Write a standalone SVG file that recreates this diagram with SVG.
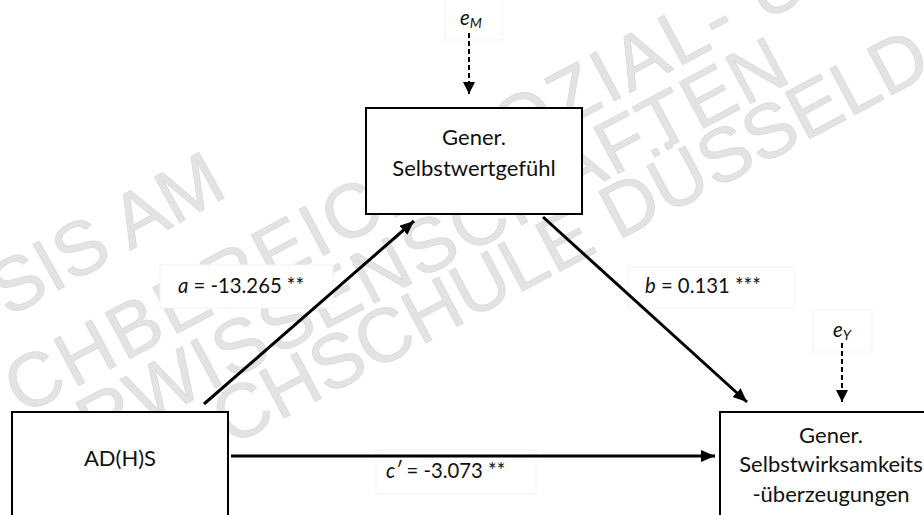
<svg xmlns="http://www.w3.org/2000/svg" width="924" height="515" viewBox="0 0 924 515">
<style>
.wm{font-family:"Liberation Sans",Arial,sans-serif;font-size:76px;fill:#e3e3e3;stroke:#dadada;stroke-width:0.8}
.box{fill:#ffffff;stroke:#000000;stroke-width:2}
.lbox{fill:#ffffff;stroke:#f3f3f3;stroke-width:1}
.nt{font-family:Lato,"Open Sans",sans-serif;font-size:22px;fill:#111111;text-anchor:middle}
.lt{font-family:Lato,"Open Sans",sans-serif;font-size:20.3px;fill:#111111}
.it{font-style:italic}
.sub{font-size:14px;font-style:italic}
.arr{stroke:#000000;stroke-width:3;fill:none;marker-end:url(#ah)}
.dash{stroke:#000000;stroke-width:2;stroke-dasharray:5 3;fill:none;marker-end:url(#ahs)}
</style>
<defs>
<marker id="ah" markerUnits="userSpaceOnUse" markerWidth="16" markerHeight="14" refX="14" refY="6" orient="auto">
<path d="M0,0 L14,6 L0,12 Z" fill="#000000"/>
</marker>
<marker id="ahs" markerUnits="userSpaceOnUse" markerWidth="16" markerHeight="14" refX="12" refY="6" orient="auto">
<path d="M0,0 L12,6 L0,12 Z" fill="#000000"/>
</marker>
</defs>
<rect width="924" height="515" fill="#ffffff"/>
<g id="watermark">
<text class="wm" transform="translate(8,318) rotate(-29)">SIS AM</text>
<text class="wm" transform="translate(22,416) rotate(-28)" letter-spacing="3">CHBEREICH SOZIAL- U</text>
<text class="wm" transform="translate(95,452) rotate(-28)" letter-spacing="2">RWISSENSCHAFTEN</text>
<text class="wm" transform="translate(230,447) rotate(-28)">CHSCHULE DÜSSELD</text>
</g>
<g id="labels-bg">
<rect class="lbox" x="445" y="-1" width="57" height="41"/>
<rect class="lbox" x="813" y="310" width="59" height="42"/>
<rect class="lbox" x="160" y="265" width="173" height="43"/>
<rect class="lbox" x="628" y="267" width="167" height="41"/>
<rect class="lbox" x="376" y="450" width="160" height="44"/>
</g>
<g id="node-mediator">
<rect class="box" x="366" y="108" width="216" height="106"/>
<text class="nt" x="474" y="145">Gener.</text>
<text class="nt" x="474" y="176">Selbstwertgefühl</text>
</g>
<g id="node-x">
<rect class="box" x="12" y="412" width="216" height="120"/>
<text class="nt" x="120" y="466">AD(H)S</text>
</g>
<g id="node-y">
<rect class="box" x="720" y="412" width="220" height="120"/>
<text class="nt" x="831" y="443">Gener.</text>
<text class="nt" x="831" y="472">Selbstwirksamkeits</text>
<text class="nt" x="831" y="502">-überzeugungen</text>
</g>
<g id="connectors">
<line class="arr" x1="204" y1="404" x2="414" y2="221"/>
<line class="arr" x1="543" y1="217" x2="747" y2="402"/>
<line class="arr" x1="231" y1="456" x2="715" y2="456"/>
<line class="dash" x1="469" y1="33" x2="469" y2="94"/>
<line class="dash" x1="842" y1="343" x2="842" y2="402"/>
</g>
<g id="edge-labels">
<text class="lt" x="178" y="293"><tspan class="it">a</tspan> = -13.265 **</text>
<text class="lt" x="645" y="293"><tspan class="it">b</tspan> = 0.131 ***</text>
<text class="lt" x="386" y="478"><tspan class="it">c′</tspan> = -3.073 **</text>
<text class="lt" x="460" y="25"><tspan class="it">e</tspan><tspan class="sub" dy="3">M</tspan></text>
<text class="lt" x="833" y="337"><tspan class="it">e</tspan><tspan class="sub" dy="3">Y</tspan></text>
</g>
</svg>
